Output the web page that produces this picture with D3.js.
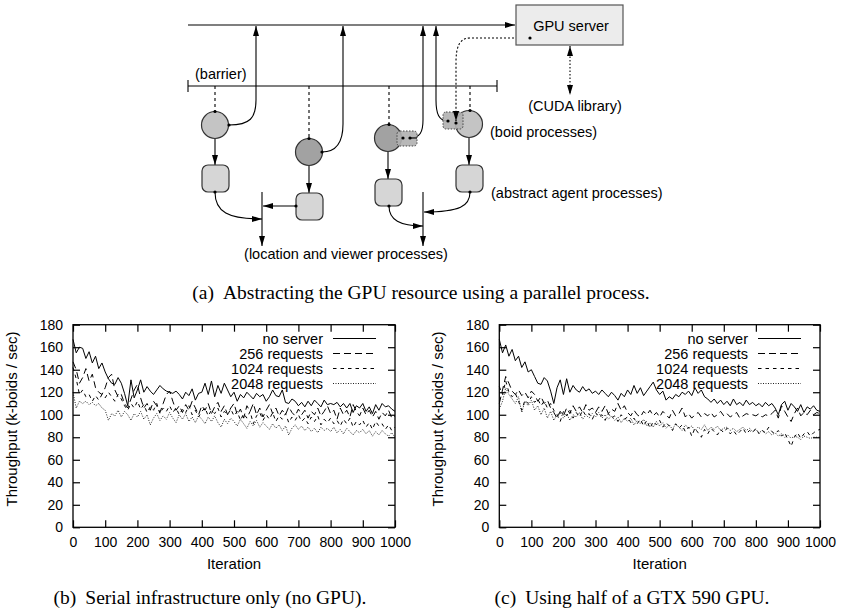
<!DOCTYPE html>
<html>
<head>
<meta charset="utf-8">
<script src="https://cdn.jsdelivr.net/npm/d3@7"></script>
<style>
body { margin: 0; background: #fff; }
svg text { font-family: "Liberation Sans", Arial, sans-serif; fill: #000; }
text.cap { font-family: "Liberation Serif", "Times New Roman", serif; font-size: 19.5px; }
</style>
</head>
<body>
<svg id="svg1" width="842" height="610"></svg>
<script>
// iteration axis (one sample every 10 iterations)
var iterations = d3.range(0, 1001, 10);
var xTicks = [0, 100, 200, 300, 400, 500, 600, 700, 800, 900, 1000];
var yTicks = [0, 20, 40, 60, 80, 100, 120, 140, 160, 180];
var seriesNames = ['no server', '256 requests', '1024 requests', '2048 requests'];

// (b) serial infrastructure only
var noServerB = [
  167, 155, 160, 159, 150, 156, 146, 152, 141, 146,
  138, 132, 128, 127, 133, 128, 119, 108, 131, 115,
  122, 131, 120, 125, 121, 118, 122, 126, 123, 121,
  120, 119, 121, 118, 114, 120, 117, 123, 113, 119,
  120, 128, 118, 130, 116, 126, 119, 128, 122, 116,
  120, 112, 118, 115, 120, 117, 114, 119, 116, 118,
  112, 116, 122, 117, 116, 122, 111, 110, 114, 112,
  108, 111, 107, 112, 108, 113, 110, 107, 113, 109,
  110, 109, 111, 107, 110, 106, 110, 102, 108, 106,
  110, 103, 107, 101, 109, 104, 110, 107, 108, 105, 103];
var req256B = [
  147, 140, 128, 133, 141, 130, 136, 124, 120, 118,
  124, 133, 136, 122, 116, 118, 110, 106, 114, 122,
  127, 115, 106, 110, 104, 112, 108, 102, 110, 118,
  121, 112, 104, 108, 102, 109, 104, 112, 106, 100,
  108, 104, 110, 101, 107, 111, 103, 108, 100, 106,
  110, 100, 105, 97, 108, 103, 110, 100, 106, 98,
  104, 109, 101, 106, 99, 104, 100, 107, 102, 99,
  105, 100, 104, 97, 103, 100, 106, 99, 103, 108,
  101, 104, 96, 106, 100, 104, 98, 109, 103, 99,
  106, 100, 104, 98, 103, 96, 102, 99, 104, 97, 99];
var req1024B = [
  142, 132, 118, 122, 116, 118, 112, 117, 113, 118,
  115, 120, 116, 112, 118, 114, 108, 104, 110, 106,
  112, 105, 109, 102, 107, 104, 110, 101, 106, 103,
  108, 102, 106, 100, 105, 102, 108, 100, 104, 98,
  103, 106, 99, 104, 101, 106, 98, 103, 100, 105,
  99, 103, 95, 101, 97, 103, 92, 99, 102, 95,
  100, 96, 102, 94, 99, 96, 101, 93, 98, 95,
  100, 94, 97, 92, 98, 94, 99, 91, 96, 93,
  97, 92, 95, 90, 96, 92, 97, 89, 94, 91,
  95, 89, 93, 87, 94, 90, 92, 87, 91, 86, 89];
var req2048B = [
  120, 106, 112, 110, 112, 109, 111, 108, 110, 106,
  104, 95, 101, 99, 104, 98, 103, 100, 95, 101,
  98, 103, 96, 100, 91, 97, 101, 95, 99, 96,
  102, 97, 93, 100, 96, 101, 94, 98, 93, 99,
  96, 92, 98, 94, 99, 93, 89, 96, 92, 97,
  94, 90, 96, 92, 88, 94, 90, 95, 89, 93,
  90, 87, 92, 88, 91, 86, 90, 82, 88, 91,
  87, 90, 86, 89, 85, 88, 84, 89, 86, 88,
  85, 89, 84, 87, 83, 88, 85, 82, 86, 84,
  87, 83, 86, 81, 85, 82, 86, 83, 81, 84, 80];

// (c) half of a GTX 590
var noServerC = [
  167, 155, 162, 152, 158, 148, 152, 142, 147, 138,
  140, 134, 128, 127, 133, 130, 121, 110, 124, 131,
  118, 132, 120, 126, 122, 120, 125, 121, 123, 119,
  121, 118, 122, 119, 116, 120, 117, 113, 119, 116,
  122, 118, 126, 119, 124, 117, 121, 125, 129, 122,
  118, 121, 113, 116, 114, 118, 116, 120, 118, 121,
  117, 124, 119, 122, 116, 114, 111, 114, 110, 113,
  109, 112, 108, 114, 109, 111, 108, 113, 109, 111,
  108, 110, 107, 111, 108, 110, 106, 100, 109, 112,
  104, 110, 107, 103, 109, 102, 107, 105, 108, 104, 103];
var req256C = [
  110, 122, 134, 128, 121, 118, 122, 117, 120, 115,
  121, 118, 112, 116, 110, 113, 106, 102, 97, 103,
  99, 106, 101, 108, 103, 107, 102, 109, 104, 106,
  102, 107, 103, 108, 101, 105, 103, 110, 104, 108,
  102, 99, 104, 100, 98, 103, 100, 104, 99, 102,
  98, 103, 100, 97, 104, 99, 101, 106, 98, 101,
  97, 100, 102, 98, 101, 99, 102, 98, 100, 103,
  99, 101, 98, 100, 102, 97, 99, 101, 100, 100,
  99, 101, 98, 100, 99, 101, 104, 97, 108, 103,
  98, 94, 101, 106, 99, 102, 100, 104, 100, 102, 101];
var req1024C = [
  125, 118, 130, 120, 116, 119, 112, 104, 113, 110,
  116, 111, 114, 108, 112, 106, 110, 104, 100, 94,
  103, 99, 104, 97, 102, 98, 104, 99, 101, 96,
  102, 98, 100, 95, 101, 97, 99, 94, 100, 96,
  98, 93, 97, 92, 96, 90, 95, 88, 94, 91,
  95, 89, 93, 90, 86, 92, 88, 91, 85, 89,
  81, 88, 84, 80, 87, 83, 88, 85, 82, 87,
  84, 88, 83, 86, 82, 85, 88, 83, 86, 84,
  88, 83, 86, 84, 89, 85, 83, 86, 81, 84,
  78, 72, 80, 84, 79, 83, 85, 81, 84, 86, 87];
var req2048C = [
  105, 112, 124, 118, 114, 110, 116, 102, 112, 108,
  113, 104, 108, 100, 106, 97, 103, 95, 100, 102,
  97, 101, 95, 100, 98, 102, 96, 100, 97, 101,
  98, 102, 97, 100, 96, 99, 95, 98, 93, 97,
  94, 97, 91, 95, 92, 96, 90, 93, 89, 94,
  90, 93, 88, 91, 87, 92, 89, 86, 91, 88,
  90, 86, 89, 87, 91, 86, 89, 87, 90, 86,
  88, 89, 86, 88, 85, 87, 89, 86, 88, 85,
  87, 84, 86, 83, 85, 82, 84, 81, 83, 80,
  82, 79, 81, 80, 78, 81, 80, 79, 80, 80, 80];

var dashes = ['none', '7,4', '3.5,4', '1,1.5'];

var svg = d3.select('#svg1');
var defs = svg.append('defs');
defs.append('marker')
    .attr('id', 'arr')
    .attr('viewBox', '0 0 10 6')
    .attr('refX', 10).attr('refY', 3)
    .attr('markerWidth', 10).attr('markerHeight', 6)
    .attr('markerUnits', 'userSpaceOnUse')
    .attr('orient', 'auto-start-reverse')
    .append('path').attr('d', 'M0,0L10,3L0,6Z').attr('fill', '#000');

// ---------- (a) process diagram ----------
var dg = svg.append('g');

function edge(d, dash, start, end) {
    var p = dg.append('path').attr('d', d)
        .attr('fill', 'none').attr('stroke', '#000').attr('stroke-width', 1.1);
    if (dash) p.attr('stroke-dasharray', dash);
    if (start) p.attr('marker-start', 'url(#arr)');
    if (end) p.attr('marker-end', 'url(#arr)');
    return p;
}
function dot(x, y) {
    dg.append('circle').attr('cx', x).attr('cy', y).attr('r', 1.6).attr('fill', '#000');
}

// channel to the server and the barrier
edge('M188,25L515,25', null, false, true);
edge('M188,86L497,86');
edge('M188,80L188,92');
edge('M497,80L497,92');

// boid -> server requests
edge('M229,125C250,125 256,118 256,100L256,26', null, false, true);
edge('M322,152C338,152 343,140 343,124L343,26', null, false, true);
edge('M410,138C420,138 423,132 423,120L423,26', null, false, true);
edge('M448,121C439,121 436,114 436,100L436,26', null, false, true);

// barrier sync
[[215, 111.5], [309, 138.5], [389, 124.5], [470, 110.5]].forEach(function(p) {
    edge('M' + p[0] + ',86L' + p[0] + ',' + p[1], '3,3');
});

// server reply and CUDA link
edge('M530,38L470,38C460,38 456,46 456,62L456,121', '2,2', false, true);
edge('M570,46L570,95', '1.5,2', true, true);

// boid -> agent
edge('M215,138.5L215,165', null, false, true);
edge('M309,165.5L309,193', null, false, true);
edge('M388,151.5L388,179', null, false, true);
edge('M469,137.5L469,165', null, false, true);

// agent -> location
edge('M262,192L262,246', null, false, true);
edge('M423,192L423,246', null, false, true);
edge('M215,192C215,212 228,219 262,219', null, false, true);
edge('M296,206L263,206', null, false, true);
edge('M389,206C389,220 400,226 423,226', null, false, true);
edge('M470,192C470,206 460,212 424,212', null, false, true);

var boids = [
    {x: 215, y: 125, fill: '#c4c4c4'},
    {x: 309, y: 152, fill: '#a2a2a2'},
    {x: 388, y: 138, fill: '#a2a2a2'},
    {x: 469, y: 124, fill: '#c4c4c4'}];
var proxies = [{x: 397, y: 131, w: 20, h: 15}, {x: 443, y: 112, w: 20, h: 17}];
var agents = [{x: 202, y: 165}, {x: 296, y: 193}, {x: 375, y: 179}, {x: 456, y: 165}];

dg.selectAll('circle.boid').data(boids).enter().append('circle')
    .attr('class', 'boid')
    .attr('cx', function(d) { return d.x; })
    .attr('cy', function(d) { return d.y; })
    .attr('r', 13.5)
    .attr('fill', function(d) { return d.fill; })
    .attr('stroke', '#333').attr('stroke-width', 1.2);

dg.selectAll('rect.proxy').data(proxies).enter().append('rect')
    .attr('class', 'proxy')
    .attr('x', function(d) { return d.x; })
    .attr('y', function(d) { return d.y; })
    .attr('width', function(d) { return d.w; })
    .attr('height', function(d) { return d.h; })
    .attr('rx', 3)
    .attr('fill', '#b0b0b0').attr('fill-opacity', 0.9)
    .attr('stroke', '#444').attr('stroke-width', 1).attr('stroke-dasharray', '1.5,1.5');

dg.selectAll('rect.agent').data(agents).enter().append('rect')
    .attr('class', 'agent')
    .attr('x', function(d) { return d.x; })
    .attr('y', function(d) { return d.y; })
    .attr('width', 27).attr('height', 27)
    .attr('rx', 6)
    .attr('fill', '#d6d6d6')
    .attr('stroke', '#333').attr('stroke-width', 1.2);

// redraw the bits of wire that sit on top of the proxies
edge('M456,112L456,121', '2,2', false, true);
edge('M410,138L417,138');
[[215, 111.5], [309, 138.5], [389, 124.5], [470, 110.5], [229, 125], [322, 152],
 [403, 138], [410, 138], [448, 121], [456, 123], [530, 38],
 [215, 192], [389, 206], [470, 192], [296, 206]].forEach(function(p) { dot(p[0], p[1]); });

// server box
dg.append('rect').attr('x', 516).attr('y', 5).attr('width', 107).attr('height', 40)
    .attr('fill', '#ececec').attr('stroke', '#555').attr('stroke-width', 1.2);
dot(530, 38);

var dText = [
    {t: 'GPU server', x: 571, y: 31, a: 'middle'},
    {t: '(barrier)', x: 195, y: 79, a: 'start'},
    {t: '(CUDA library)', x: 575, y: 111, a: 'middle'},
    {t: '(boid processes)', x: 490, y: 137, a: 'start'},
    {t: '(abstract agent processes)', x: 491, y: 198, a: 'start'},
    {t: '(location and viewer processes)', x: 346, y: 259, a: 'middle'}];
dg.selectAll('text').data(dText).enter().append('text')
    .attr('x', function(d) { return d.x; })
    .attr('y', function(d) { return d.y; })
    .attr('text-anchor', function(d) { return d.a; })
    .style('font-size', '14.5px')
    .text(function(d) { return d.t; });

function caption(cx, y, tag, rest) {
    var t = svg.append('text').attr('class', 'cap')
        .attr('x', cx).attr('y', y).attr('text-anchor', 'middle');
    t.append('tspan').text(tag);
    t.append('tspan').attr('dx', 9).text(rest);
}
caption(421, 299, '(a)', 'Abstracting the GPU resource using a parallel process.');

// ---------- (b), (c) throughput charts ----------
function drawChart(x0, x1, values, ylabX) {
    var xScale = d3.scaleLinear().domain([0, 1000]).range([x0, x1]);
    var yScale = d3.scaleLinear().domain([0, 180]).range([527.3, 324.7]);
    var g = svg.append('g');

    var line = d3.line()
        .x(function(d, i) { return xScale(iterations[i]); })
        .y(function(d) { return yScale(d); });

    values.forEach(function(v, k) {
        g.append('path').datum(v)
            .attr('d', line)
            .attr('fill', 'none')
            .attr('stroke', k == 3 ? '#222' : '#000')
            .attr('stroke-width', 1)
            .attr('stroke-dasharray', dashes[k]);
    });

    var plain = function(d) { return String(d); };
    var ax = [
        {a: d3.axisBottom(xScale).tickValues(xTicks).tickFormat(plain).tickPadding(10), t: 'translate(0,' + yScale(0) + ')'},
        {a: d3.axisTop(xScale).tickValues(xTicks).tickFormat(''), t: 'translate(0,' + yScale(180) + ')'},
        {a: d3.axisLeft(yScale).tickValues(yTicks).tickFormat(plain).tickPadding(10), t: 'translate(' + x0 + ',0)'},
        {a: d3.axisRight(yScale).tickValues(yTicks).tickFormat(''), t: 'translate(' + x1 + ',0)'}];
    ax.forEach(function(o) {
        var a = g.append('g').attr('transform', o.t).call(o.a.tickSize(-7));
        a.select('.domain').remove();
        a.selectAll('line').attr('stroke', '#000').attr('stroke-width', 1.2);
        a.attr('font-family', null).attr('font-size', null);
        a.selectAll('text').style('font-size', '14px').attr('fill', '#000');
    });

    g.append('rect')
        .attr('x', x0).attr('y', yScale(180))
        .attr('width', x1 - x0).attr('height', yScale(0) - yScale(180))
        .attr('fill', 'none').attr('stroke', '#000').attr('stroke-width', 1.3);

    // legend
    seriesNames.forEach(function(n, k) {
        var yy = 338.5 + k * 15;
        g.append('text').attr('x', x1 - 72).attr('y', yy).attr('dy', '0.36em')
            .attr('text-anchor', 'end').style('font-size', '14.5px').text(n);
        g.append('line').attr('x1', x1 - 62).attr('x2', x1 - 19)
            .attr('y1', yy).attr('y2', yy)
            .attr('stroke', k == 3 ? '#222' : '#000').attr('stroke-width', 1)
            .attr('stroke-dasharray', dashes[k]);
    });

    g.append('text').attr('x', (x0 + x1) / 2).attr('y', 569)
        .attr('text-anchor', 'middle').style('font-size', '15px').text('Iteration');
    g.append('text')
        .attr('transform', 'translate(' + ylabX + ',419) rotate(-90)')
        .attr('text-anchor', 'middle').style('font-size', '15px')
        .text('Throughput (k-boids / sec)');
}

drawChart(73, 395, [noServerB, req256B, req1024B, req2048B], 17);
drawChart(499.3, 820, [noServerC, req256C, req1024C, req2048C], 443);

caption(210, 604, '(b)', 'Serial infrastructure only (no GPU).');
caption(632, 604, '(c)', 'Using half of a GTX 590 GPU.');
</script>
</body>
</html>
